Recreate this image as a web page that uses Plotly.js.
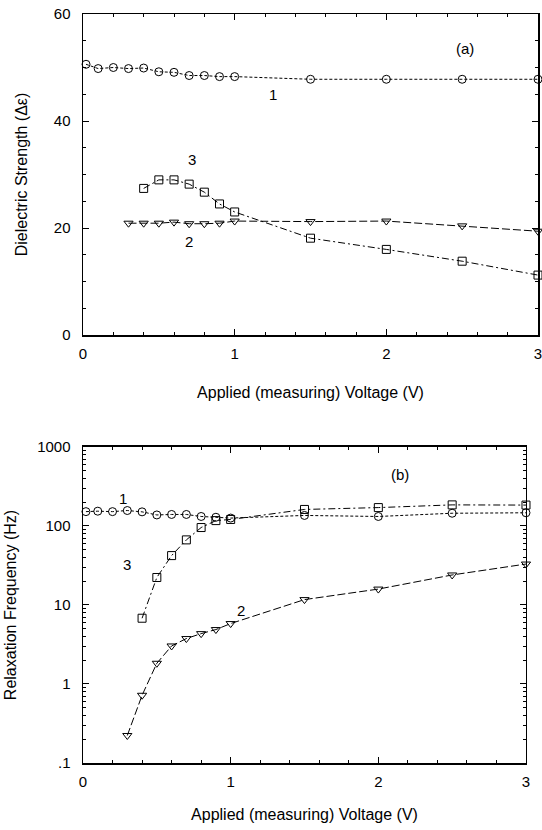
<!DOCTYPE html>
<html>
<head>
<meta charset="utf-8">
<script src="https://cdn.plot.ly/plotly-3.0.1.min.js"></script>
<style>html,body{margin:0;padding:0;background:#fff;}#chart{width:542px;height:830px;}</style>
</head>
<body>
<div id="chart"></div>
<script>
// ---- Panel (a): dielectric strength ----
const xTop1 = [0.02,0.1,0.2,0.3,0.4,0.5,0.6,0.7,0.8,0.9,1.0,1.5,2.0,2.5,3.0];
const strength1 = [50.6,49.8,50.0,49.8,49.9,49.2,49.1,48.5,48.5,48.3,48.3,47.8,47.8,47.8,47.8];
const xTop2 = [0.3,0.4,0.5,0.6,0.7,0.8,0.9,1.0,1.5,2.0,2.5,3.0];
const strength2 = [20.9,20.9,20.9,21.1,20.8,20.8,20.9,21.3,21.2,21.3,20.4,19.4];
const xTop3 = [0.4,0.5,0.6,0.7,0.8,0.9,1.0,1.5,2.0,2.5,3.0];
const strength3 = [27.4,29.0,29.0,28.2,26.7,24.5,23.0,18.1,16.0,13.8,11.2];

// ---- Panel (b): relaxation frequency ----
const xBot1 = [0.02,0.1,0.2,0.3,0.4,0.5,0.6,0.7,0.8,0.9,1.0,1.5,2.0,2.5,3.0];
const freq1 = [152,154,152,157,151,138,140,140,132,129,126,136,132,145,147];
const xBot2 = [0.3,0.4,0.5,0.6,0.7,0.8,0.9,1.0,1.5,2.0,2.5,3.0];
const freq2 = [0.223,0.72,1.83,3.03,3.76,4.34,4.89,5.82,11.7,15.9,24,33];
const xBot3 = [0.4,0.5,0.6,0.7,0.8,0.9,1.0,1.5,2.0,2.5,3.0];
const freq3 = [6.8,22.3,42.2,66.7,95.6,117,121,162,171,185,184];

const logTickVals = [0.1,1,10,100,1000];
const logTickText = [".1","1","10","100","1000"];
const xTickVals = [0,1,2,3];
const yTopTickVals = [0,20,40,60];

const FONT = "Liberation Sans, Arial, sans-serif";
const blk = "#000";

function series(x, y, xa, ya, sym, dash) {
  return {
    x: x, y: y, xaxis: xa, yaxis: ya, type: "scatter", mode: "lines+markers",
    line: {color: blk, width: 1, dash: dash},
    marker: {symbol: sym, size: 8, color: blk, line: {color: blk, width: 1}},
    cliponaxis: false, showlegend: false, hoverinfo: "x+y"
  };
}
const dashCirc = "3px,2px";
const dashTri = "8px,3px";
const dashSq = "7px,3px,2px,3px";

const traces = [
  series(xTop1, strength1, "x", "y", "circle-open", dashCirc),
  series(xTop2, strength2, "x", "y", "triangle-down-open", dashTri),
  series(xTop3, strength3, "x", "y", "square-open", dashSq),
  series(xBot1, freq1, "x2", "y2", "circle-open", dashCirc),
  series(xBot2, freq2, "x2", "y2", "triangle-down-open", dashTri),
  series(xBot3, freq3, "x2", "y2", "square-open", dashSq)
];

const axBase = {
  showline: true, linecolor: blk, linewidth: 1.5, mirror: "allticks",
  ticks: "inside", ticklen: 6, tickwidth: 1, tickcolor: blk,
  showgrid: false, zeroline: false, ticklabeloverflow: "allow",
  tickfont: {family: FONT, size: 15, color: blk}
};

const minorTopY = []; for (let v = 5; v < 60; v += 5) if (v % 20) minorTopY.push(v);
const minorLog = []; [0.1,1,10,100].forEach(d => { for (let k = 2; k <= 9; k++) minorLog.push(+(d*k).toPrecision(3)); });

const layout = {
  width: 542, height: 830,
  margin: {l: 83, r: 4, t: 14, b: 67},
  paper_bgcolor: "#fff", plot_bgcolor: "#fff",
  font: {family: FONT, color: blk},
  xaxis: Object.assign({}, axBase, {
    domain: [0, 1], anchor: "y", range: [0, 3],
    tickmode: "array", tickvals: xTickVals, ticktext: xTickVals.map(String),
    ticklabelstandoff: 4,
    minor: {ticks: "inside", ticklen: 3, dtick: 0.2, tick0: 0, tickcolor: blk},
    title: {text: "Applied (measuring) Voltage (V)", font: {family: FONT, size: 16, color: blk}, standoff: 26}
  }),
  yaxis: Object.assign({}, axBase, {
    domain: [0.5714, 1], anchor: "x", range: [0, 60],
    tickmode: "array", tickvals: yTopTickVals, ticktext: yTopTickVals.map(String),
    ticklabelstandoff: 8,
    minor: {ticks: "inside", ticklen: 3, tickmode: "array", tickvals: minorTopY, tickcolor: blk},
    title: {text: "Dielectric Strength (Δε)", font: {family: FONT, size: 16, color: blk}, standoff: 22}
  }),
  xaxis2: Object.assign({}, axBase, {
    domain: [0, 0.9736], anchor: "y2", range: [0, 3],
    tickmode: "array", tickvals: xTickVals, ticktext: xTickVals.map(String),
    ticklabelstandoff: 4,
    minor: {ticks: "inside", ticklen: 3, dtick: 0.2, tick0: 0, tickcolor: blk},
    title: {text: "Applied (measuring) Voltage (V)", font: {family: FONT, size: 16, color: blk}, standoff: 20}
  }),
  yaxis2: Object.assign({}, axBase, {
    domain: [0, 0.4219], anchor: "x2", type: "log", range: [-1, 3],
    tickmode: "array", tickvals: logTickVals, ticktext: logTickText,
    ticklabelstandoff: 8,
    minor: {ticks: "inside", ticklen: 3, tickmode: "array", tickvals: minorLog, tickcolor: blk},
    title: {text: "Relaxation Frequency (Hz)", font: {family: FONT, size: 16, color: blk}, standoff: 16}
  }),
  annotations: [
    {xref: "x", yref: "y", x: 1.25, y: 44.9, text: "1", showarrow: false, font: {family: FONT, size: 15, color: blk}},
    {xref: "x", yref: "y", x: 0.70, y: 17.4, text: "2", showarrow: false, font: {family: FONT, size: 15, color: blk}},
    {xref: "x", yref: "y", x: 0.72, y: 32.8, text: "3", showarrow: false, font: {family: FONT, size: 15, color: blk}},
    {xref: "x", yref: "y", x: 2.52, y: 53.6, text: "(a)", showarrow: false, font: {family: FONT, size: 15, color: blk}},
    {xref: "x2", yref: "y2", x: 0.27, y: Math.log10(225), text: "1", showarrow: false, font: {family: FONT, size: 15, color: blk}},
    {xref: "x2", yref: "y2", x: 1.07, y: Math.log10(8.6), text: "2", showarrow: false, font: {family: FONT, size: 15, color: blk}},
    {xref: "x2", yref: "y2", x: 0.30, y: Math.log10(33), text: "3", showarrow: false, font: {family: FONT, size: 15, color: blk}},
    {xref: "x2", yref: "y2", x: 2.15, y: Math.log10(450), text: "(b)", showarrow: false, font: {family: FONT, size: 15, color: blk}}
  ]
};

Plotly.newPlot("chart", traces, layout, {displayModeBar: false, staticPlot: true});
</script>
</body>
</html>
